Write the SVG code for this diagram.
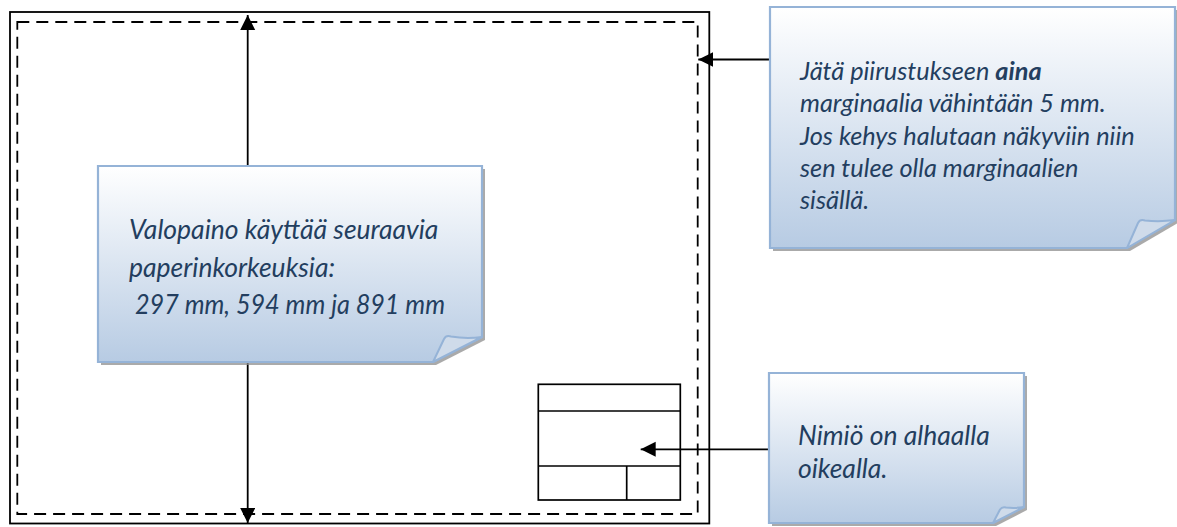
<svg xmlns="http://www.w3.org/2000/svg" width="1177" height="527" viewBox="0 0 1177 527">
<defs>
<linearGradient id="noteGrad" x1="0" y1="0" x2="0" y2="1">
<stop offset="0" stop-color="#FFFFFF"/>
<stop offset="1" stop-color="#B7CBE3"/>
</linearGradient>
<marker id="arr" markerUnits="userSpaceOnUse" markerWidth="16" markerHeight="16" refX="15" refY="7.5" orient="auto">
<path d="M0,0 L15,7.5 L0,15 Z" fill="#000"/>
</marker>
<style>
.frame{fill:none;stroke:#000;stroke-width:1.8}
.margin{fill:none;stroke:#000;stroke-width:1.8;stroke-dasharray:12 7}
.tb{fill:none;stroke:#000;stroke-width:1.7}
.note{fill:url(#noteGrad);stroke:#95B3D7;stroke-width:2.2}
.shadow{fill:#8E8E8E;opacity:0.75}
.fold{fill:#CFDBEA;stroke:#95B3D7;stroke-width:2;stroke-linejoin:round}
.txt{font-family:Lato,"Open Sans","Liberation Sans",sans-serif;font-style:italic;font-size:26.5px;fill:#233E5F}
.txt.sm{font-size:25.3px}
.conn{fill:none;stroke:#000;stroke-width:1.8;marker-end:url(#arr)}
</style>
</defs>
<rect width="1177" height="527" fill="#FFFFFF"/>
<g id="sheet">
<rect class="frame" x="10" y="12" width="699.3" height="511.5"/>
<rect class="margin" x="17.3" y="22" width="680.4" height="492"/>
</g>
<g id="title-block">
<rect class="tb" x="538.3" y="384.3" width="142" height="115.7"/>
<line class="tb" x1="538.3" y1="411" x2="680.3" y2="411"/>
<line class="tb" x1="538.3" y1="466" x2="680.3" y2="466"/>
<line class="tb" x1="626.7" y1="466" x2="626.7" y2="500"/>
</g>
<g id="connectors">
<line class="conn" x1="247.7" y1="166" x2="247.7" y2="15"/>
<line class="conn" x1="247.7" y1="362" x2="247.7" y2="523"/>
<line class="conn" x1="770" y1="59.5" x2="698.3" y2="59.5"/>
<line class="conn" x1="769" y1="449.3" x2="640.7" y2="449.3"/>
</g>
<g id="note-paper-heights">
<path class="shadow" d="M101,169 H485 V340 L436,365 H101 Z"/>
<path class="note" d="M98,166 H482 V337 L433,362 H98 Z"/>
<path class="fold" d="M433,362 L444,339 Q446,335 451,336.5 Q466,339 482,337 Z"/>
<text class="txt" x="129" y="239">Valopaino käyttää seuraavia</text>
<text class="txt" x="129" y="277">paperinkorkeuksia:</text>
<text class="txt" x="135" y="314" textLength="310" lengthAdjust="spacingAndGlyphs">297 mm, 594 mm ja 891 mm</text>
</g>
<g id="note-margin">
<path class="shadow" d="M773,10 H1178 V223 L1130,251 H773 Z"/>
<path class="note" d="M770,7 H1175 V220 L1127,248 H770 Z"/>
<path class="fold" d="M1127,248 L1138,223 Q1140,219 1145,220.5 Q1160,222 1175,220 Z"/>
<text class="txt sm" x="800" y="80">Jätä piirustukseen <tspan font-weight="bold">aina</tspan></text>
<text class="txt sm" x="800" y="112.3">marginaalia vähintään 5 mm.</text>
<text class="txt sm" x="800" y="144.6">Jos kehys halutaan näkyviin niin</text>
<text class="txt sm" x="800" y="176.9">sen tulee olla marginaalien</text>
<text class="txt sm" x="800" y="209.2">sisällä.</text>
</g>
<g id="note-title-block">
<path class="shadow" d="M772,376 H1027 V510 L996,526 H772 Z"/>
<path class="note" d="M769,373 H1024 V507 L993,523 H769 Z"/>
<path class="fold" d="M993,523 L1000,509.5 Q1002,506.5 1006,507.5 Q1015,508.5 1024,507 Z"/>
<text class="txt" x="798" y="445">Nimiö on alhaalla</text>
<text class="txt" x="798" y="478">oikealla.</text>
</g>
</svg>
